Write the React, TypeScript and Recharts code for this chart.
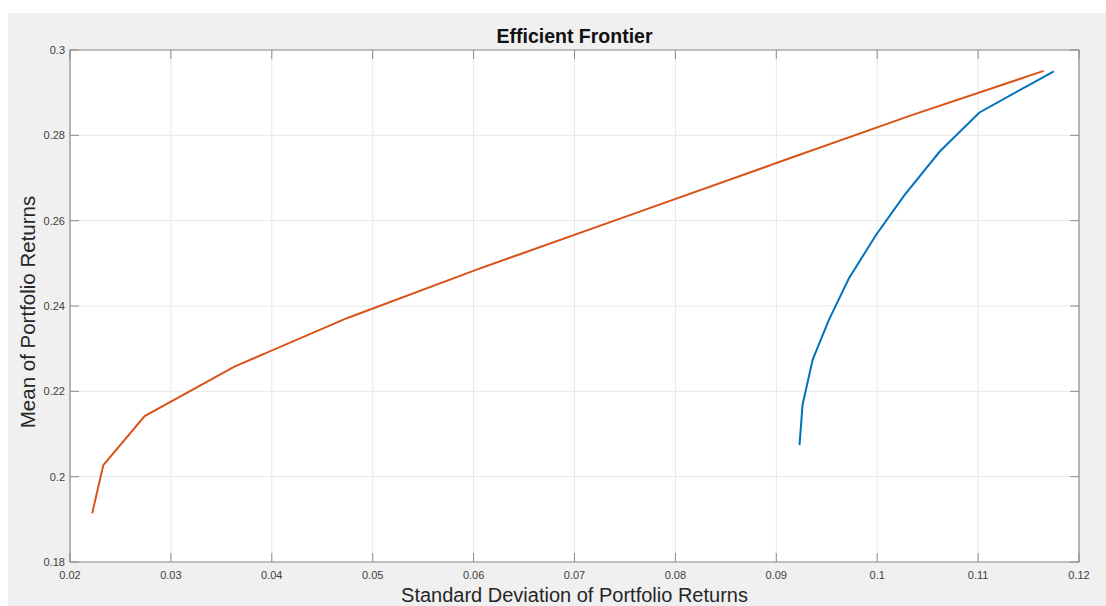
import React from 'react';
import {
  LineChart,
  Line,
  XAxis,
  YAxis,
  CartesianGrid,
  ReferenceArea,
  Label,
} from 'recharts';

// Frontier points (std dev, mean)
const FRONTIER_A_STD = [0.0923, 0.0926, 0.0936, 0.0952, 0.0972, 0.0999, 0.1027, 0.1062, 0.1101, 0.1175];
const FRONTIER_A_MEAN = [0.2074, 0.2168, 0.2274, 0.2367, 0.2465, 0.2567, 0.266, 0.2762, 0.2853, 0.295];

const FRONTIER_B_STD = [0.0222, 0.0233, 0.0274, 0.0363, 0.0475, 0.0605, 0.075, 0.09, 0.1035, 0.1165];
const FRONTIER_B_MEAN = [0.1914, 0.2027, 0.2142, 0.2258, 0.2372, 0.2487, 0.2609, 0.2735, 0.2848, 0.2951];

const X_TICKS = [0.02, 0.03, 0.04, 0.05, 0.06, 0.07, 0.08, 0.09, 0.1, 0.11, 0.12];
const Y_TICKS = [0.18, 0.2, 0.22, 0.24, 0.26, 0.28, 0.3];

const BLUE = '#0072BD';
const ORANGE = '#D95319';
const AXIS = '#8c8c8c';
const TEXT = '#404040';
const FONT = '"Liberation Sans", Arial, Helvetica, sans-serif';

// chart box
const W = 1098;
const H = 593;
const M_TOP = 37;
const M_RIGHT = 27;
const Y_AXIS_W = 62;
const X_AXIS_H = 44;
const PLOT_TOP = M_TOP;
const PLOT_BOTTOM = H - X_AXIS_H;
const PLOT_LEFT = Y_AXIS_W;
const PLOT_RIGHT = W - M_RIGHT;
const TICK_LEN = 9;

const blueData = FRONTIER_A_STD.map((x, i) => ({ x, y: FRONTIER_A_MEAN[i] }));
const orangeData = FRONTIER_B_STD.map((x, i) => ({ x, y: FRONTIER_B_MEAN[i] }));

const fmt = (v: number) => String(Number(v.toFixed(2)));

// MATLAB-style ticks: pointing inwards, mirrored on the opposite side
const XTick = (props: any) => {
  const { x, payload } = props;
  return (
    <g>
      <line x1={x} x2={x} y1={PLOT_BOTTOM} y2={PLOT_BOTTOM - TICK_LEN} stroke={AXIS} />
      <line x1={x} x2={x} y1={PLOT_TOP} y2={PLOT_TOP + TICK_LEN} stroke={AXIS} />
      <text x={x} y={PLOT_BOTTOM + 17} textAnchor="middle" fontSize={11} fill={TEXT} fontFamily={FONT}>
        {fmt(payload.value)}
      </text>
    </g>
  );
};

const YTick = (props: any) => {
  const { y, payload } = props;
  return (
    <g>
      <line x1={PLOT_LEFT} x2={PLOT_LEFT + TICK_LEN} y1={y} y2={y} stroke={AXIS} />
      <line x1={PLOT_RIGHT} x2={PLOT_RIGHT - TICK_LEN} y1={y} y2={y} stroke={AXIS} />
      <text x={PLOT_LEFT - 5} y={y} dy="0.35em" textAnchor="end" fontSize={11} fill={TEXT} fontFamily={FONT}>
        {fmt(payload.value)}
      </text>
    </g>
  );
};

const App: React.FC = () => {
  return (
    <div
      style={{
        position: 'fixed',
        left: 8,
        top: 13,
        width: W,
        height: H,
        background: '#f0f0f0',
        fontFamily: FONT,
      }}
    >
      <div
        style={{
          position: 'absolute',
          left: 0,
          width: PLOT_LEFT + PLOT_RIGHT,
          top: 12,
          textAlign: 'center',
          fontSize: 19.5,
          fontWeight: 'bold',
          color: '#111',
          lineHeight: '22px',
        }}
      >
        Efficient Frontier
      </div>
      <LineChart
        width={W}
        height={H}
        margin={{ top: M_TOP, right: M_RIGHT, bottom: 0, left: 0 }}
        style={{ position: 'absolute', left: 0, top: 0 }}
      >
        <CartesianGrid stroke="#e8e8e8" fill="#ffffff" horizontalValues={Y_TICKS} verticalValues={X_TICKS} />
        <XAxis
          type="number"
          dataKey="x"
          domain={[0.02, 0.12]}
          ticks={X_TICKS}
          interval={0}
          height={X_AXIS_H}
          axisLine={false}
          tickLine={false}
          tick={<XTick />}
        >
          <Label
            content={() => (
              <text x={(PLOT_LEFT + PLOT_RIGHT) / 2} y={H - 4} textAnchor="middle" fontSize={20} fill="#262626" fontFamily={FONT}>
                Standard Deviation of Portfolio Returns
              </text>
            )}
          />
        </XAxis>
        <YAxis
          type="number"
          domain={[0.18, 0.3]}
          ticks={Y_TICKS}
          interval={0}
          width={Y_AXIS_W}
          axisLine={false}
          tickLine={false}
          tick={<YTick />}
        >
          <Label
            content={() => (
              <text
                x={27}
                y={299}
                transform="rotate(-90 27 299)"
                textAnchor="middle"
                fontSize={20.5}
                fill="#262626"
                fontFamily={FONT}
              >
                Mean of Portfolio Returns
              </text>
            )}
          />
        </YAxis>
        <ReferenceArea x1={0.02} x2={0.12} y1={0.18} y2={0.3} fill="none" fillOpacity={0} stroke={AXIS} strokeWidth={1.2} />
        <Line
          data={blueData}
          dataKey="y"
          type="linear"
          stroke={BLUE}
          strokeWidth={2}
          dot={false}
          isAnimationActive={false}
        />
        <Line
          data={orangeData}
          dataKey="y"
          type="linear"
          stroke={ORANGE}
          strokeWidth={2}
          dot={false}
          isAnimationActive={false}
        />
      </LineChart>
    </div>
  );
};

export default App;
